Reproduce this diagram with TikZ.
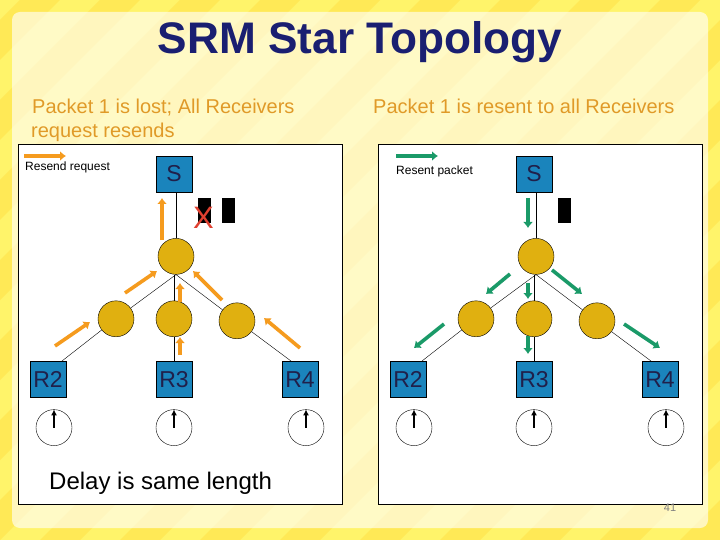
\documentclass[tikz,border=0pt]{standalone}
\usepackage{fontspec}
\setmainfont{Liberation Sans}
\usepackage{xcolor}
\usetikzlibrary{arrows.meta,positioning}
\definecolor{stripeA}{HTML}{FFF46A}
\definecolor{stripeB}{HTML}{FFE956}
\definecolor{boxblue}{HTML}{1A84BC}
\definecolor{hubgold}{HTML}{E0B010}
\definecolor{reqorange}{HTML}{F59B1E}
\definecolor{sentgreen}{HTML}{1A9A68}
\definecolor{titlenavy}{HTML}{1A1F71}
\definecolor{textnavy}{HTML}{20204A}
\definecolor{headgold}{HTML}{E09A28}
\definecolor{crossred}{HTML}{E04030}
\pgfdeclarelayer{backdrop}
\pgfdeclarelayer{links}
\pgfsetlayers{backdrop,links,main}

\begin{document}
\begin{tikzpicture}[
  x=1pt,y=-1pt,
  endbox/.style={draw,fill=boxblue,text=textnavy,minimum size=36pt,inner sep=0pt,font=\fontsize{23}{25}\selectfont},
  hub/.style={draw,circle,fill=hubgold,minimum size=36pt,inner sep=0pt},
  clock/.style={draw,circle,fill=white,minimum size=36pt,inner sep=0pt},
  pkt/.style={fill=black,minimum width=13pt,minimum height=25pt,inner sep=0pt},
  panel/.style={draw,fill=white,minimum width=324pt,minimum height=360pt,inner sep=0pt},
  head/.style={font=\fontsize{20}{24}\selectfont,text=headgold,align=left,anchor=north west,inner sep=0pt},
  small/.style={font=\fontsize{12}{14}\selectfont,inner sep=0pt,anchor=west},
  hand/.style={-{Latex[length=6pt,width=6pt]},line width=1.4pt},
  req/.style={-{Latex[length=6pt,width=10pt]},reqorange,line width=3.6pt},
  sent/.style={-{Latex[length=6pt,width=10pt]},sentgreen,line width=3.6pt}]
\useasboundingbox (0,0) rectangle (720,540);
% backdrop
\begin{pgfonlayer}{backdrop}
\begin{scope}
\clip (0,0) rectangle (720,540);
\fill[stripeA] (0,0) rectangle (720,540);
\foreach \i in {0,2,...,32}
  \fill[stripeB] (\i*40-60,0) -- (\i*40-20,0) -- (\i*40-560,540) -- (\i*40-600,540) -- cycle;
\fill[white,opacity=.62,rounded corners=8pt] (12,12) rectangle (708,528);
\end{scope}
\node[panel] (panell) at (180,324) {};
\node[panel] (panelr) at (540,324) {};
\end{pgfonlayer}
\node[font=\bfseries\fontsize{44.2}{46}\selectfont,text=titlenavy] (title) at (360,42) {SRM Star Topology};
\node[head] (headl) at (31,98.5) {\hspace{1pt}Packet 1 is lost; All Receivers\\request resends};
\node[head] (headr) at (373,98.5) {Packet 1 is resent to all Receivers};
% left tree
\node[endbox] (sl) at (174,174) {S};
\node[hub,below=46pt of sl,xshift=2pt] (hl) {};
\node[hub,below=26pt of hl,xshift=-60pt] (al) {};
\node[hub,below=26pt of hl,xshift=-2pt] (bl) {};
\node[hub,below=28pt of hl,xshift=61pt] (cl) {};
\node[endbox,below=24pt of al,xshift=-68pt] (r2l) {R2};
\node[endbox,below=24pt of bl] (r3l) {R3};
\node[endbox,below=22pt of cl,xshift=63pt] (r4l) {R4};
\node[clock,below=12pt of r2l,xshift=6pt] (t2l) {};
\node[clock,below=12pt of r3l] (t3l) {};
\node[clock,below=12pt of r4l,xshift=6pt] (t4l) {};
\node[pkt] (p1l) at (204.5,210.5) {};
\node[pkt] (p2l) at (228.5,210.5) {};
\node[text=crossred,font=\fontsize{31}{31}\selectfont,inner sep=0pt] (xl) at (203.5,217.5) {X};
\node[small] (legl) at (25,167.5) {Resend request};
\node[font=\fontsize{24}{26}\selectfont,inner sep=0pt,anchor=west] (delay) at (49,483) {Delay is same length};
% right tree
\node[endbox] (sr) at (534,174) {S};
\node[hub,below=46pt of sr,xshift=2pt] (hr) {};
\node[hub,below=26pt of hr,xshift=-60pt] (ar) {};
\node[hub,below=26pt of hr,xshift=-2pt] (br) {};
\node[hub,below=28pt of hr,xshift=61pt] (cr) {};
\node[endbox,below=24pt of ar,xshift=-68pt] (r2r) {R2};
\node[endbox,below=24pt of br] (r3r) {R3};
\node[endbox,below=22pt of cr,xshift=63pt] (r4r) {R4};
\node[clock,below=12pt of r2r,xshift=6pt] (t2r) {};
\node[clock,below=12pt of r3r] (t3r) {};
\node[clock,below=12pt of r4r,xshift=6pt] (t4r) {};
\node[pkt] (p1r) at (564.5,210.5) {};
\node[small] (legr) at (396,171) {Resent packet};
\node[font=\fontsize{11}{12}\selectfont,text=black!50,inner sep=0pt] (num) at (670,508) {41};
% links
\begin{pgfonlayer}{links}
\draw (hl) -- (hl |- sl.south);
\draw (hl.south) -- (al);
\draw (bl) -- (bl |- hl.south);
\draw (hl.south) -- (cl);
\draw (al) -- ([xshift=14pt]r2l.north);
\draw (bl) -- (r3l);
\draw (cl) -- ([xshift=-9pt]r4l.north);
\draw (hr) -- (hr |- sr.south);
\draw (hr.south) -- (ar);
\draw (br) -- (br |- hr.south);
\draw (hr.south) -- (cr);
\draw (ar) -- ([xshift=14pt]r2r.north);
\draw (br) -- (r3r);
\draw (cr) -- ([xshift=-9pt]r4r.north);
\end{pgfonlayer}
% hands
\draw[hand] (t2l.center) -- (t2l.north);
\draw[hand] (t3l.center) -- (t3l.north);
\draw[hand] (t4l.center) -- (t4l.north);
\draw[hand] (t2r.center) -- (t2r.north);
\draw[hand] (t3r.center) -- (t3r.north);
\draw[hand] (t4r.center) -- (t4r.north);
% resend requests
\coordinate (k0a) at (24,156); \coordinate (k0b) at (66,156);
\coordinate (k1a) at (162,240); \coordinate (k1b) at (162,198);
\coordinate (k2a) at (125,293); \coordinate (k2b) at (157,271);
\coordinate (k3a) at (180,302); \coordinate (k3b) at (180,283);
\coordinate (k4a) at (222,300); \coordinate (k4b) at (193,271);
\coordinate (k5a) at (55,346); \coordinate (k5b) at (90,322);
\coordinate (k6a) at (180,355); \coordinate (k6b) at (180,337);
\coordinate (k7a) at (300,348); \coordinate (k7b) at (264,318);
\draw[req] (k0a)--(k0b);
\draw[req] (k1a)--(k1b);
\draw[req] (k2a)--(k2b);
\draw[req] (k3a)--(k3b);
\draw[req] (k4a)--(k4b);
\draw[req] (k5a)--(k5b);
\draw[req] (k6a)--(k6b);
\draw[req] (k7a)--(k7b);
% resent packets
\coordinate (g0a) at (396,156); \coordinate (g0b) at (438,156);
\coordinate (g1a) at (528,198); \coordinate (g1b) at (528,228);
\coordinate (g2a) at (510,274); \coordinate (g2b) at (486,294);
\coordinate (g3a) at (528,283); \coordinate (g3b) at (528,299);
\coordinate (g4a) at (552,270); \coordinate (g4b) at (582,294);
\coordinate (g5a) at (444,324); \coordinate (g5b) at (414,348);
\coordinate (g6a) at (528,336); \coordinate (g6b) at (528,354);
\coordinate (g7a) at (624,324); \coordinate (g7b) at (660,348);
\draw[sent] (g0a)--(g0b);
\draw[sent] (g1a)--(g1b);
\draw[sent] (g2a)--(g2b);
\draw[sent] (g3a)--(g3b);
\draw[sent] (g4a)--(g4b);
\draw[sent] (g5a)--(g5b);
\draw[sent] (g6a)--(g6b);
\draw[sent] (g7a)--(g7b);
\end{tikzpicture}
\end{document}
